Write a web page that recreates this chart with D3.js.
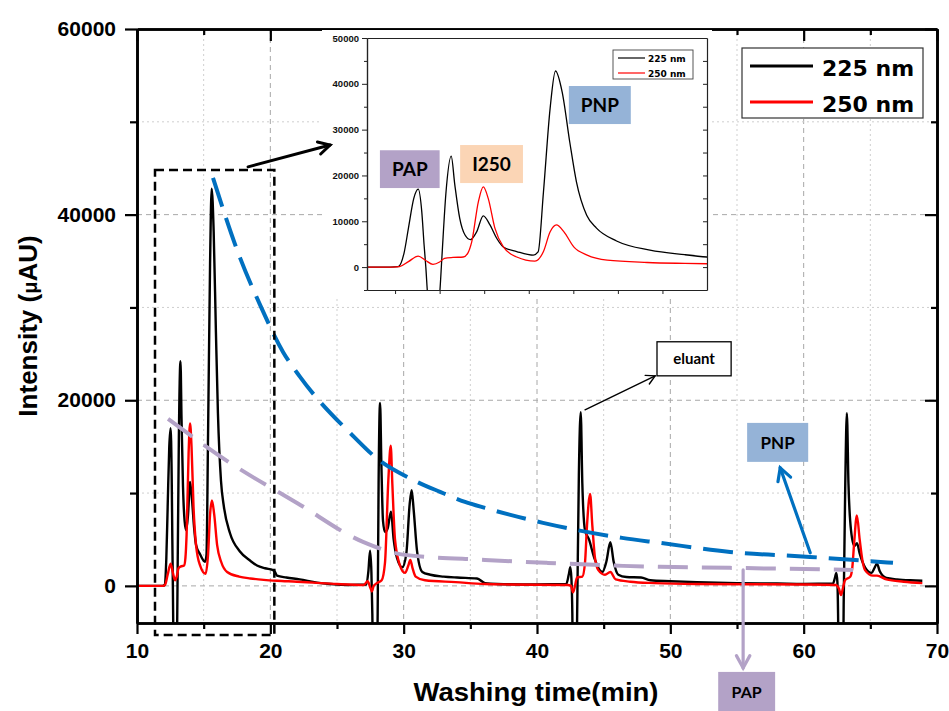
<!DOCTYPE html>
<html>
<head>
<meta charset="utf-8">
<script src="https://cdn.jsdelivr.net/npm/d3@7"></script>
<style>
  body { margin: 0; background: #fff; }
  svg { display: block; }
</style>
</head>
<body>
<svg id="chart" width="949" height="711"></svg>
<script>
// ---- chromatogram, 225 nm (time in min, intensity in µAU) ----
const time225 = [10, 11.9, 12.07, 12.2, 12.3, 12.42, 12.52, 12.6, 12.65, 12.69, 12.73, 12.78, 12.95, 13.0, 13.05, 13.14, 13.26, 13.34, 13.45, 13.57, 13.69, 13.83, 13.98, 14.13, 14.28, 14.43, 14.73, 15.1, 15.21, 15.33, 15.48, 15.6, 15.75, 15.92, 16.07, 16.3, 16.52, 16.97, 17.72, 18.5, 19.0, 19.6, 20.2, 20.35, 20.5, 21.2, 22.2, 23.5, 24.5, 26.0, 27.2, 27.35, 27.48, 27.58, 27.65, 27.72, 28.0, 28.05, 28.12, 28.23, 28.33, 28.45, 28.6, 28.8, 29.05, 29.25, 29.5, 29.9, 30.2, 30.45, 30.6, 30.75, 31.0, 31.4, 32.0, 33.0, 34.0, 35.5, 36.1, 37.0, 40.0, 42.2, 42.38, 42.5, 42.58, 42.65, 42.7, 42.95, 43.02, 43.14, 43.28, 43.4, 43.6, 43.9, 44.3, 44.9, 45.2, 45.5, 45.75, 46.1, 46.7, 47.8, 48.5, 50.0, 52.0, 55.0, 58.0, 60.0, 62.2, 62.35, 62.45, 62.53, 62.58, 62.63, 62.95, 63.0, 63.12, 63.24, 63.36, 63.55, 63.8, 64.0, 64.2, 64.6, 65.1, 65.3, 65.5, 65.7, 66.2, 67.0, 68.0, 68.9];
const int225 = [0, 0, 100, 3000, 8500, 15000, 17000, 12000, 5000, 0, -6000, -10000, -10000, -6000, 2000, 16000, 24200, 18000, 10700, 7000, 6000, 7700, 11200, 9200, 6300, 4400, 3400, 2600, 3300, 16400, 34700, 42800, 38200, 27300, 18600, 11300, 8500, 5700, 3700, 2700, 2200, 1900, 1700, 1500, 1100, 900, 700, 350, 200, 100, 150, 1500, 3800, 1500, -3000, -10000, -10000, -3000, 11000, 19700, 13000, 7000, 5800, 6200, 8000, 5000, 3000, 2000, 3500, 8800, 10300, 8200, 3800, 1500, 1200, 1000, 900, 800, 300, 200, 150, 200, 1200, 2000, 800, -3000, -10000, -10000, -2000, 12000, 18700, 11000, 6000, 5000, 3000, 1500, 2600, 4700, 2600, 1200, 950, 900, 600, 500, 400, 300, 250, 200, 250, 900, 1400, 400, -3000, -10000, -10000, -2000, 11000, 18600, 11000, 6000, 4300, 4600, 3500, 2000, 1400, 1900, 2400, 1600, 850, 700, 600, 550];

// ---- chromatogram, 250 nm ----
const time250 = [10, 11.95, 12.1, 12.3, 12.52, 12.68, 12.85, 13.0, 13.11, 13.3, 13.53, 13.63, 13.72, 13.87, 13.98, 14.09, 14.24, 14.43, 14.73, 15.14, 15.33, 15.48, 15.62, 15.79, 16.01, 16.31, 16.76, 17.66, 18.5, 19.5, 20.5, 22.0, 23.2, 25.0, 27.0, 27.3, 27.5, 27.62, 27.75, 28.0, 28.35, 28.6, 28.85, 29.03, 29.15, 29.35, 29.7, 30.1, 30.35, 30.5, 30.65, 30.9, 31.6, 33.9, 36.1, 38.0, 42.3, 42.55, 42.7, 42.85, 43.0, 43.4, 43.6, 43.75, 43.98, 44.15, 44.35, 44.6, 45.1, 45.5, 45.9, 47.0, 48.8, 52.0, 60.0, 62.4, 62.65, 62.8, 62.95, 63.1, 63.5, 63.65, 63.78, 63.99, 64.2, 64.4, 64.6, 65.2, 65.5, 66.2, 67.5, 68.9];
const int250 = [0, 0, 100, 1200, 2400, 1500, 600, 1100, 1900, 2100, 2200, 3000, 5500, 14300, 17500, 15000, 8500, 4400, 2200, 1300, 3400, 7700, 9200, 7700, 4400, 2600, 1500, 1000, 800, 650, 550, 450, 350, 200, 100, 500, -200, -600, 0, 300, 600, 2500, 11400, 15100, 11000, 5000, 2300, 1400, 2200, 2800, 2000, 1000, 600, 400, 200, 150, 100, 0, -700, 0, 900, 1000, 2500, 6500, 9900, 6500, 3000, 1700, 1200, 1500, 700, 450, 300, 200, 150, 100, -300, -1000, -200, 600, 1000, 2000, 4500, 7600, 5000, 2800, 1700, 1100, 1100, 700, 450, 300];

// ---- trend guides drawn through the successive PNP and PAP maxima ----
const pnpTrendT = [15.70, 17.73, 19.23, 20.95, 22.23, 26.35, 27.85, 30.70, 32.73, 34.60, 36.10, 40.45, 46.38, 49.23, 54.48, 60.48, 66.70];
const pnpTrendV = [43960, 35340, 30280, 25210, 22520, 15950, 13900, 11420, 10130, 9050, 8400, 6790, 5170, 4630, 3660, 3120, 2480];
const papTrendT = [12.33, 16.98, 22.0, 26.95, 30.10, 36.10, 40.75, 46.45, 49.23, 54.48, 63.70];
const papTrendV = [17990, 13250, 8940, 4740, 3340, 2800, 2480, 2155, 2050, 1940, 1720];

// ---- axes ----
const xTicksMajor = [10, 20, 30, 40, 50, 60, 70];
const xTicksMinor = [15, 25, 35, 45, 55, 65];
const yTicksMajor = [0, 20000, 40000, 60000];
const yTicksMinor = [10000, 30000, 50000];
const insetYTicks = [0, 10000, 20000, 30000, 40000, 50000];
const insetYMinor = [-5000, 5000, 15000, 25000, 35000, 45000];
const insetXTicks = [12, 13, 14, 15, 16, 17, 18];

const seriesNames = ["225 nm", "250 nm"];
const seriesColors = ["#000000", "#ff0000"];

const svg = d3.select("#chart");
const BOLD = "'Liberation Sans', Arial, sans-serif";
const WIDE = "'DejaVu Sans', sans-serif";
const CAL = "Lato, 'Open Sans', sans-serif";
const plain = d3.format("d");

const M = { left: 137, right: 937, top: 29, bottom: 623 };
const x = d3.scaleLinear().domain([10, 70]).range([M.left, M.right]);
const y = d3.scaleLinear().domain([-4000, 60000]).range([M.bottom, M.top]);

const series = [
  { name: seriesNames[0], color: seriesColors[0], pts: time225.map((t, i) => [t, int225[i]]) },
  { name: seriesNames[1], color: seriesColors[1], pts: time250.map((t, i) => [t, int250[i]]) }
];

const defs = svg.append("defs");
defs.append("clipPath").attr("id", "mainClip").append("rect")
  .attr("x", M.left).attr("y", M.top).attr("width", M.right - M.left).attr("height", M.bottom - M.top);

// ---- grid ----
const grid = svg.append("g");
grid.selectAll(".gxm").data(xTicksMinor).join("line")
  .attr("x1", d => x(d)).attr("x2", d => x(d)).attr("y1", M.top).attr("y2", M.bottom)
  .attr("stroke", "#cfcfcf").attr("stroke-width", 1).attr("stroke-dasharray", "2,3");
grid.selectAll(".gxM").data(xTicksMajor.slice(1, -1)).join("line")
  .attr("x1", d => x(d)).attr("x2", d => x(d)).attr("y1", M.top).attr("y2", M.bottom)
  .attr("stroke", "#a8a8a8").attr("stroke-width", 1).attr("stroke-dasharray", "5,4");
grid.selectAll(".gym").data(yTicksMinor).join("line")
  .attr("x1", M.left).attr("x2", M.right).attr("y1", d => y(d)).attr("y2", d => y(d))
  .attr("stroke", "#cfcfcf").attr("stroke-width", 1).attr("stroke-dasharray", "2,3");
grid.selectAll(".gyM").data(yTicksMajor.slice(0, -1)).join("line")
  .attr("x1", M.left).attr("x2", M.right).attr("y1", d => y(d)).attr("y2", d => y(d))
  .attr("stroke", "#a8a8a8").attr("stroke-width", 1).attr("stroke-dasharray", "5,4");

// ---- chromatogram traces ----
const line = d3.line().x(d => x(d[0])).y(d => y(d[1])).curve(d3.curveMonotoneX);
const traces = svg.append("g").attr("clip-path", "url(#mainClip)");
traces.selectAll("path").data(series).join("path")
  .attr("d", d => line(d.pts)).attr("fill", "none")
  .attr("stroke", d => d.color).attr("stroke-width", 2.4).attr("stroke-linejoin", "round");

// ---- trend guides ----
const trendLine = d3.line().x(d => x(d[0])).y(d => y(d[1])).curve(d3.curveMonotoneX);
svg.append("path").attr("d", trendLine(papTrendT.map((t, i) => [t, papTrendV[i]])))
  .attr("fill", "none").attr("stroke", "#b3a2c7").attr("stroke-width", 4).attr("stroke-dasharray", "30,14");
svg.append("path").attr("d", trendLine(pnpTrendT.map((t, i) => [t, pnpTrendV[i]])))
  .attr("fill", "none").attr("stroke", "#0070c0").attr("stroke-width", 4).attr("stroke-dasharray", "30,12");

// ---- zoom window around the first cycle ----
svg.append("rect")
  .attr("x", x(11.35)).attr("y", y(44800))
  .attr("width", x(20.3) - x(11.35)).attr("height", y(-5300) - y(44800))
  .attr("fill", "none").attr("stroke", "#000").attr("stroke-width", 2.5).attr("stroke-dasharray", "9,5");

function arrow(g, x1, y1, x2, y2, color, width, head) {
  g.append("line").attr("x1", x1).attr("y1", y1).attr("x2", x2).attr("y2", y2)
    .attr("stroke", color).attr("stroke-width", width).attr("stroke-linecap", "round");
  const a = Math.atan2(y2 - y1, x2 - x1);
  const a1 = a + Math.PI - 0.5, a2 = a + Math.PI + 0.5;
  g.append("path")
    .attr("d", `M${x2 + head * Math.cos(a1)},${y2 + head * Math.sin(a1)}L${x2},${y2}L${x2 + head * Math.cos(a2)},${y2 + head * Math.sin(a2)}`)
    .attr("fill", "none").attr("stroke", color).attr("stroke-width", width)
    .attr("stroke-linecap", "round").attr("stroke-linejoin", "miter");
}

// ---- axes ----
const axes = svg.append("g");
axes.append("g").attr("transform", `translate(0,${M.bottom})`)
  .call(d3.axisBottom(x).tickValues(xTicksMajor).tickSize(11).tickPadding(9).tickSizeOuter(0));
axes.append("g").attr("transform", `translate(0,${M.bottom})`)
  .call(d3.axisBottom(x).tickValues(xTicksMinor).tickSize(6).tickFormat("").tickSizeOuter(0));
axes.append("g").attr("transform", `translate(${M.left},0)`)
  .call(d3.axisLeft(y).tickValues(yTicksMajor).tickSize(12).tickPadding(9).tickFormat(plain).tickSizeOuter(0));
axes.append("g").attr("transform", `translate(${M.left},0)`)
  .call(d3.axisLeft(y).tickValues(yTicksMinor).tickSize(7).tickFormat("").tickSizeOuter(0));
axes.append("g").attr("transform", `translate(0,${M.top})`)
  .call(d3.axisTop(x).tickValues(xTicksMajor).tickSize(-12).tickFormat("").tickSizeOuter(0));
axes.append("g").attr("transform", `translate(0,${M.top})`)
  .call(d3.axisTop(x).tickValues(xTicksMinor).tickSize(-6).tickFormat("").tickSizeOuter(0));
axes.append("g").attr("transform", `translate(${M.right},0)`)
  .call(d3.axisRight(y).tickValues(yTicksMajor).tickSize(-12).tickFormat("").tickSizeOuter(0));
axes.append("g").attr("transform", `translate(${M.right},0)`)
  .call(d3.axisRight(y).tickValues(yTicksMinor).tickSize(-6).tickFormat("").tickSizeOuter(0));
axes.selectAll(".domain").attr("stroke", "#000").attr("stroke-width", 2.6);
axes.selectAll(".tick line").attr("stroke", "#000").attr("stroke-width", 2.2);
axes.selectAll(".tick text").attr("font-family", BOLD).attr("font-weight", "bold")
  .attr("font-size", 21).attr("fill", "#000");

// axis titles
svg.append("text").attr("x", 536).attr("y", 701).attr("text-anchor", "middle")
  .attr("font-family", BOLD).attr("font-weight", "bold").attr("font-size", 26)
  .attr("textLength", 245).attr("lengthAdjust", "spacingAndGlyphs")
  .text("Washing time(min)");
const yt = svg.append("text").attr("transform", "translate(37,326) rotate(-90)")
  .attr("text-anchor", "middle").attr("font-family", BOLD).attr("font-weight", "bold").attr("font-size", 26);
yt.append("tspan").text("Intensity (");
yt.append("tspan").attr("font-size", 20).text("μ");
yt.append("tspan").text("AU)");

// ---- legend ----
const lg = svg.append("g");
lg.append("rect").attr("x", 742).attr("y", 48).attr("width", 181).attr("height", 70)
  .attr("fill", "#fff").attr("stroke", "#333").attr("stroke-width", 1.2);
series.forEach((s, i) => {
  const ly = 66 + i * 36;
  lg.append("line").attr("x1", 750).attr("x2", 813).attr("y1", ly).attr("y2", ly)
    .attr("stroke", s.color).attr("stroke-width", 2.8);
  lg.append("text").attr("x", 822).attr("y", ly + 10).attr("font-family", WIDE)
    .attr("font-weight", "bold").attr("font-size", 22).text(s.name);
});

// ---- inset: magnified first cycle ----
const I = { left: 367, right: 707, top: 38, bottom: 290 };
const xi = d3.scaleLinear().domain([11.37, 19.0]).range([I.left, I.right]);
const yi = d3.scaleLinear().domain([-5000, 50000]).range([I.bottom, I.top]);
const inset = svg.append("g");
inset.append("rect").attr("x", 322).attr("y", 30).attr("width", 390).attr("height", 267).attr("fill", "#fff");
defs.append("clipPath").attr("id", "insetClip").append("rect")
  .attr("x", I.left).attr("y", I.top).attr("width", I.right - I.left).attr("height", I.bottom - I.top);
const lineI = d3.line().x(d => xi(d[0])).y(d => yi(d[1])).curve(d3.curveMonotoneX);
inset.append("g").attr("clip-path", "url(#insetClip)")
  .selectAll("path").data(series).join("path")
  .attr("d", d => lineI(d.pts.filter(p => p[0] >= 10 && p[0] <= 20.5)))
  .attr("fill", "none").attr("stroke", d => d.color).attr("stroke-width", 1.3);
const iax = inset.append("g");
iax.append("g").attr("transform", `translate(${I.left},0)`)
  .call(d3.axisLeft(yi).tickValues(insetYTicks).tickSize(5).tickPadding(3).tickFormat(plain).tickSizeOuter(0));
iax.append("g").attr("transform", `translate(${I.left},0)`)
  .call(d3.axisLeft(yi).tickValues(insetYMinor).tickSize(3).tickFormat("").tickSizeOuter(0));
iax.append("g").attr("transform", `translate(${I.right},0)`)
  .call(d3.axisRight(yi).tickValues(insetYTicks.concat(insetYMinor)).tickSize(-4).tickFormat("").tickSizeOuter(0));
iax.append("g").attr("transform", `translate(0,${I.bottom})`)
  .call(d3.axisBottom(xi).tickValues(insetXTicks).tickSize(4).tickFormat("").tickSizeOuter(0));
iax.append("g").attr("transform", `translate(0,${I.top})`)
  .call(d3.axisTop(xi).tickValues([]).tickSizeOuter(0));
iax.selectAll(".domain").attr("stroke", "#222").attr("stroke-width", 1.2);
iax.selectAll(".tick line").attr("stroke", "#222").attr("stroke-width", 1);
iax.selectAll(".tick text").attr("font-family", BOLD).attr("font-weight", "bold")
  .attr("font-size", 9.5).attr("fill", "#111");

// inset legend
inset.append("rect").attr("x", 613).attr("y", 50).attr("width", 80).attr("height", 29)
  .attr("fill", "#fff").attr("stroke", "#444").attr("stroke-width", 0.9);
series.forEach((s, i) => {
  const ly = 58 + i * 15;
  inset.append("line").attr("x1", 618).attr("x2", 645).attr("y1", ly).attr("y2", ly)
    .attr("stroke", s.color).attr("stroke-width", 1.2);
  inset.append("text").attr("x", 648).attr("y", ly + 3.5).attr("font-family", WIDE)
    .attr("font-weight", "bold").attr("font-size", 9).text(s.name);
});

// peak tags
function tag(g, x0, y0, x1, y1, fill, label, size) {
  g.append("rect").attr("x", x0).attr("y", y0).attr("width", x1 - x0).attr("height", y1 - y0).attr("fill", fill);
  g.append("text").attr("x", (x0 + x1) / 2).attr("y", (y0 + y1) / 2).attr("dy", "0.36em")
    .attr("text-anchor", "middle").attr("font-family", CAL).attr("font-weight", "bold")
    .attr("font-size", size).attr("fill", "#000").text(label);
}
tag(inset, xi(11.66), yi(25500), xi(13.0), yi(17250), "#b3a2c7", "PAP", 19);
tag(inset, xi(13.46), yi(26640), xi(14.87), yi(18340), "#fbd5b5", "I250", 19);
tag(inset, xi(15.90), yi(39520), xi(17.29), yi(31220), "#95b3d7", "PNP", 19);

// ---- annotations on the main plot ----
const ann = svg.append("g");
arrow(ann, x(18.33), y(45150), x(24.48), y(47500), "#000", 3, 13);
// eluant marker
ann.append("rect").attr("x", x(49.0)).attr("y", y(26300)).attr("width", x(54.56) - x(49.0))
  .attr("height", y(22630) - y(26300)).attr("fill", "#fff").attr("stroke", "#000").attr("stroke-width", 1.3);
ann.append("text").attr("x", (x(49.0) + x(54.56)) / 2).attr("y", (y(26300) + y(22630)) / 2).attr("dy", "0.36em")
  .attr("text-anchor", "middle").attr("font-family", CAL).attr("font-weight", "bold").attr("font-size", 15).text("eluant");
arrow(ann, x(43.6), y(18970), x(48.86), y(22630), "#000", 1.4, 10);
// PNP pointer
arrow(ann, x(60.49), y(3560), x(58.24), y(12720), "#0070c0", 3.2, 14);
tag(ann, x(55.76), y(17560), x(60.34), y(13360), "#95b3d7", "PNP", 17);
// PAP pointer
arrow(ann, x(55.46), y(1720), x(55.46), y(-8840), "#b3a2c7", 3.2, 14);
tag(ann, x(53.59), y(-9270), x(57.86), y(-13700), "#b3a2c7", "PAP", 16);
</script>
</body>
</html>
